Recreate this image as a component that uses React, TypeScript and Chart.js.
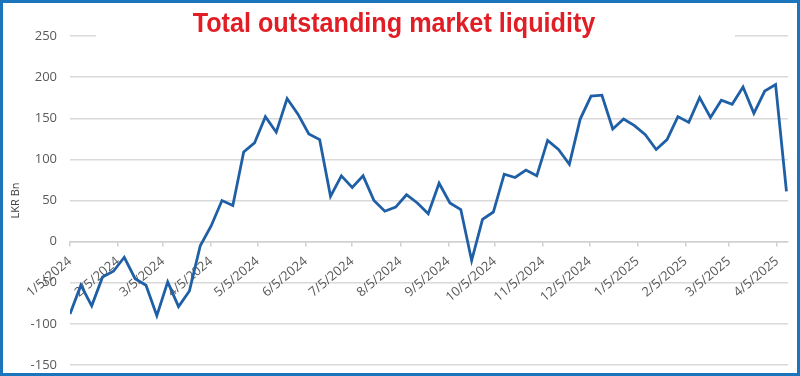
import React, { useEffect, useRef } from "react";
import { Chart, registerables } from "chart.js";

Chart.register(...registerables);

const chartTitle = "Total outstanding market liquidity";
const yAxisTitle = "LKR Bn";

// Weekly observation dates (Fridays)
const dates: string[] = [
  "2024-01-05", "2024-01-12", "2024-01-19", "2024-01-26",
  "2024-02-02", "2024-02-09", "2024-02-16", "2024-02-23",
  "2024-03-01", "2024-03-08", "2024-03-15", "2024-03-22", "2024-03-29",
  "2024-04-05", "2024-04-12", "2024-04-19", "2024-04-26",
  "2024-05-03", "2024-05-10", "2024-05-17", "2024-05-24", "2024-05-31",
  "2024-06-07", "2024-06-14", "2024-06-21", "2024-06-28",
  "2024-07-05", "2024-07-12", "2024-07-19", "2024-07-26",
  "2024-08-02", "2024-08-09", "2024-08-16", "2024-08-23", "2024-08-30",
  "2024-09-06", "2024-09-13", "2024-09-20", "2024-09-27",
  "2024-10-04", "2024-10-11", "2024-10-18", "2024-10-25",
  "2024-11-01", "2024-11-08", "2024-11-15", "2024-11-22", "2024-11-29",
  "2024-12-06", "2024-12-13", "2024-12-20", "2024-12-27",
  "2025-01-03", "2025-01-10", "2025-01-17", "2025-01-24", "2025-01-31",
  "2025-02-07", "2025-02-14", "2025-02-21", "2025-02-28",
  "2025-03-07", "2025-03-14", "2025-03-21", "2025-03-28",
  "2025-04-04", "2025-04-11",
];

// Total outstanding market liquidity, LKR Bn
const liquidity: number[] = [
  -88, -53, -78, -43, -36, -19, -45, -53, -90, -49,
  -79, -60, -5, 19, 50, 44, 109, 120, 152, 133,
  174, 155, 131, 124, 55, 80, 66, 80, 50, 37,
  42, 57, 47, 34, 71, 47, 39, -23, 27, 36,
  82, 78, 87, 80, 123, 112, 94, 149, 177, 178,
  137, 149, 141, 130, 112, 124, 152, 145, 175, 151,
  172, 167, 188, 156, 183, 191, 61,
];

// Category (date) axis tick labels
const monthTicks: string[] = [
  "1/5/2024", "2/5/2024", "3/5/2024", "4/5/2024", "5/5/2024", "6/5/2024",
  "7/5/2024", "8/5/2024", "9/5/2024", "10/5/2024", "11/5/2024", "12/5/2024",
  "1/5/2025", "2/5/2025", "3/5/2025", "4/5/2025",
];

const yMin = -150;
const yMax = 250;
const yStep = 50;

const DAY = 86400000;
function toUtc(s: string): number {
  if (s.includes("-")) {
    const [y, m, d] = s.split("-").map(Number);
    return Date.UTC(y, m - 1, d);
  }
  const [m, d, y] = s.split("/").map(Number);
  return Date.UTC(y, m - 1, d);
}
const origin = toUtc(dates[0]);
const dayOf = (s: string) => Math.round((toUtc(s) - origin) / DAY);

export default function App() {
  const canvasRef = useRef<HTMLCanvasElement | null>(null);

  useEffect(() => {
    document.body.style.margin = "0";
    const canvas = canvasRef.current;
    if (!canvas) return;

    const points = dates.map((d, i) => ({ x: dayOf(d), y: liquidity[i] }));
    const tickDays = monthTicks.map(dayOf);
    const tickLabel = new Map<number, string>();
    monthTicks.forEach((t, i) => tickLabel.set(tickDays[i], t));
    const xMax = dayOf(dates[dates.length - 1]) + 1;

    const font = { family: "'Open Sans', sans-serif", size: 13 };

    const chart = new Chart(canvas, {
      type: "line",
      data: {
        datasets: [
          {
            label: chartTitle,
            data: points,
            borderColor: "#1f5fa6",
            borderWidth: 2.8,
            pointRadius: 0,
            tension: 0,
            fill: false,
          },
        ],
      },
      options: {
        animation: false,
        responsive: false,
        layout: { padding: { left: 0, top: 33, right: 9, bottom: 8 } },
        plugins: {
          legend: { display: false },
          tooltip: { enabled: false },
          title: { display: false },
        },
        scales: {
          x: {
            type: "linear",
            position: { y: 0 },
            min: 0,
            max: xMax,
            afterBuildTicks: (scale: any) => {
              scale.ticks = tickDays.map((v) => ({ value: v }));
            },
            afterFit: (scale: any) => {
              scale.height = 0;
              scale.paddingLeft = 0;
              scale.paddingRight = 0;
              scale.paddingTop = 0;
              scale.paddingBottom = 0;
            },
            ticks: {
              autoSkip: false,
              minRotation: 40,
              maxRotation: 40,
              padding: 8,
              color: "#595959",
              font,
              callback: (v: any) => tickLabel.get(Number(v)) ?? "",
            },
            grid: {
              drawOnChartArea: false,
              drawTicks: true,
              tickLength: 4,
              color: "#d0d0d0",
              lineWidth: 1.5,
            },
            border: { display: true, color: "#d0d0d0", width: 1.5 },
          },
          y: {
            type: "linear",
            min: yMin,
            max: yMax,
            afterFit: (scale: any) => {
              scale.width = 67;
              scale.paddingTop = 0;
              scale.paddingBottom = 0;
            },
            ticks: {
              stepSize: yStep,
              padding: 13,
              color: "#595959",
              font,
            },
            grid: {
              drawTicks: false,
              color: "#d9d9d9",
              lineWidth: 1.5,
            },
            border: { display: false },
            title: {
              display: true,
              text: yAxisTitle,
              color: "#404040",
              font: { family: "'Open Sans', sans-serif", size: 11 },
              padding: { top: 6, bottom: 0 },
            },
          },
        },
      },
    });
    return () => chart.destroy();
  }, []);

  return (
    <div
      style={{
        position: "absolute",
        left: 0,
        top: 0,
        width: 800,
        height: 376,
        boxSizing: "border-box",
        border: "3px solid #1b75bc",
        background: "#ffffff",
        overflow: "hidden",
      }}
    >
      <canvas
        ref={canvasRef}
        width={794}
        height={370}
        style={{ display: "block", width: 794, height: 370 }}
      />
      <div
        style={{
          position: "absolute",
          left: 93,
          top: 3,
          width: 639,
          height: 40,
          background: "#ffffff",
        }}
      />
      <div
        style={{
          position: "absolute",
          left: 0,
          top: 2,
          width: 782,
          textAlign: "center",
          fontFamily: "'Liberation Sans', Arial, sans-serif",
          fontWeight: "bold",
          fontSize: 28,
          lineHeight: "36px",
          color: "#e11d25",
          transform: "scaleX(0.9)",
          transformOrigin: "391px 0",
          whiteSpace: "nowrap",
        }}
      >
        {chartTitle}
      </div>
    </div>
  );
}
